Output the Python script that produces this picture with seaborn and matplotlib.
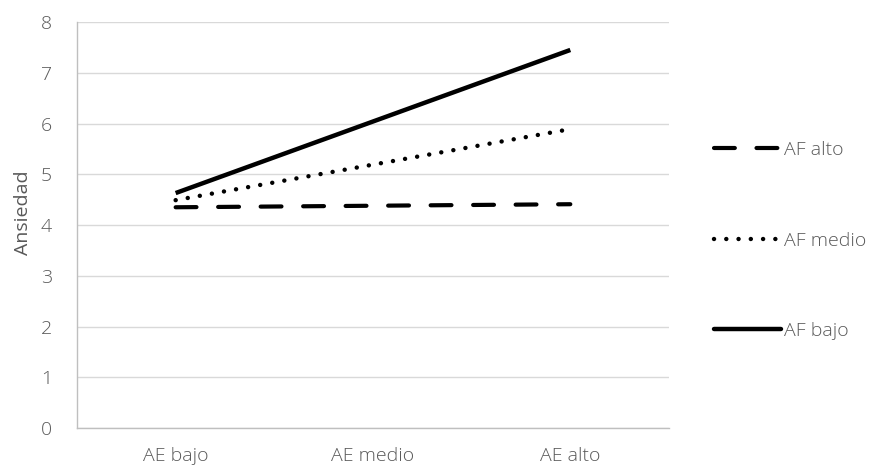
import matplotlib
matplotlib.use("Agg")
import matplotlib.pyplot as plt
import seaborn as sns
import pandas as pd
from matplotlib.lines import Line2D

categories = ["AE bajo", "AE medio", "AE alto"]
af_alto = [4.35, 4.38, 4.41]
af_medio = [4.49, 5.19, 5.89]
af_bajo = [4.63, 6.04, 7.45]
series_names = ["AF alto", "AF medio", "AF bajo"]

rows = []
for name, vals in zip(series_names, [af_alto, af_medio, af_bajo]):
    for c, v in zip(categories, vals):
        rows.append({"AE": c, "Ansiedad": v, "AF": name})
df = pd.DataFrame(rows)

sns.set_theme(style="white")
plt.rcParams["font.family"] = ["Open Sans", "DejaVu Sans"]
plt.rcParams["font.weight"] = "light"
gray = "#595959"
fs = 14

fig = plt.figure(figsize=(8.89, 4.69), dpi=100)
ax = fig.add_axes([0.0866, 0.0874, 0.7525 - 0.0866, 0.953 - 0.0874])

styles = {
    "AF alto": dict(dashes=(5.0, 5.2), lw=3.0),
    "AF medio": dict(dashes=(0.01, 2.75), lw=3.2),
    "AF bajo": dict(dashes=None, lw=3.2),
}

handles = []
for name in series_names:
    sub = df[df["AF"] == name]
    st = styles[name]
    sns.lineplot(data=sub, x="AE", y="Ansiedad", ax=ax, color="black",
                 linewidth=st["lw"], sort=False, legend=False)
    ln = ax.lines[-1]
    ln.set_solid_capstyle("butt")
    if st["dashes"] is not None:
        ln.set_dashes(st["dashes"])
        ln.set_dash_capstyle("round")
    h = Line2D([0], [0], color="black", linewidth=st["lw"])
    if st["dashes"] is not None:
        h.set_dashes(st["dashes"])
        h.set_dash_capstyle("round")
    handles.append(h)

ax.set_xlim(-0.5, 2.5)
ax.set_ylim(0, 8)
ax.set_yticks(range(0, 9))
ax.grid(axis="y", color="#d9d9d9", linewidth=1)
ax.set_axisbelow(True)
for s in ["top", "right"]:
    ax.spines[s].set_visible(False)
for s in ["left", "bottom"]:
    ax.spines[s].set_color("#bfbfbf")
    ax.spines[s].set_linewidth(1)
ax.tick_params(axis="both", length=0, labelsize=fs, colors=gray)
ax.tick_params(axis="y", pad=18)
ax.tick_params(axis="x", pad=14)
ax.set_xlabel("")
ax.set_ylabel("Ansiedad", fontsize=fs, color=gray, labelpad=6)
ax.yaxis.label.set_y(0.53)

leg = fig.legend(handles, series_names, loc="center left",
                 bbox_to_anchor=(0.784, 0.487), frameon=False,
                 handlelength=3.4, handletextpad=0.2, labelspacing=3.72,
                 fontsize=fs)
for t in leg.get_texts():
    t.set_color(gray)

fig.savefig("out.png", dpi=100)
